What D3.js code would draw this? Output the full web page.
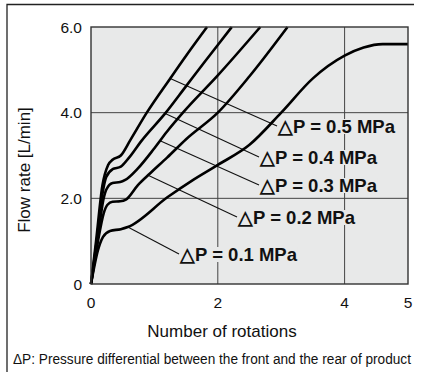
<!DOCTYPE html>
<meta charset="utf-8">
<style>
body { margin: 0; background: #fff; }
svg text { font-family: Arial, "Liberation Sans", Helvetica, sans-serif; fill: #111; }
.tick { font-size: 15.5px; }
.title { font-size: 17px; }
.lab { font-size: 18.5px; font-weight: bold; }
</style>
<body>
<script src="https://d3js.org/d3.v7.min.js"></script>
<script>

// [rotations, flow L/min]
var p05 = [[0,0],[0.08,1.0],[0.18,2.3],[0.27,2.78],[0.34,2.9],[0.47,3.0],[0.62,3.36],[0.88,4.0],[1.25,4.8],[1.5,5.33],[1.83,6.0]];
var p04 = [[0,0],[0.09,1.0],[0.18,2.1],[0.24,2.5],[0.34,2.68],[0.47,2.74],[0.6,2.95],[0.79,3.33],[1.18,4.0],[1.5,4.62],[1.8,5.2],[2.0,5.58],[2.22,6.0]];
var p03 = [[0,0],[0.1,1.0],[0.2,2.0],[0.24,2.2],[0.34,2.36],[0.46,2.38],[0.54,2.43],[0.74,2.7],[1.0,3.17],[1.2,3.56],[1.45,4.0],[2.0,4.87],[2.67,6.0]];
var p02 = [[0,0],[0.11,1.0],[0.2,1.65],[0.26,1.85],[0.34,1.92],[0.46,1.93],[0.55,1.97],[0.74,2.31],[0.93,2.58],[1.2,2.95],[1.5,3.38],[2.0,4.0],[2.5,4.85],[3.1,6.0]];
var p01 = [[0,0],[0.11,0.79],[0.19,1.1],[0.3,1.24],[0.47,1.28],[0.58,1.33],[1.21,2.03],[1.6,2.42],[2.0,2.78],[2.5,3.25],[3.0,4.0],[3.5,4.8],[4.0,5.33],[4.3,5.52],[4.6,5.6],[5,5.6]];

var series = [p05, p04, p03, p02, p01];
var labels = ["0.5", "0.4", "0.3", "0.2", "0.1"];
// where each leader touches its curve (x value on that curve)
var leaderAt = [1.25, 1.17, 1.09, 0.9, 0.58];

var xTicks = [0, 2, 4, 5];
var yTicks = [0, 2, 4, 6];
var yTickText = ["0", "2.0", "4.0", "6.0"];

var W = 425, H = 372;
var svg = d3.select("body").append("svg").attr("width", W).attr("height", H);

var x = d3.scaleLinear().domain([0, 5]).range([91, 408]);
var y = d3.scaleLinear().domain([0, 6]).range([284, 27]);

// outer frame (top + left only visible)
svg.append("path").attr("d", "M7,372V4.5H414").attr("fill", "none").attr("stroke", "#222").attr("stroke-width", 1.3);

svg.append("rect")
  .attr("x", x(0)).attr("y", y(6))
  .attr("width", x(5) - x(0)).attr("height", y(0) - y(6))
  .attr("fill", "#e8e9e9");

var grid = svg.append("g").attr("stroke", "#444").attr("stroke-width", 1);
[2, 4].forEach(function(v) {
  grid.append("line").attr("x1", x(v)).attr("x2", x(v)).attr("y1", y(0)).attr("y2", y(6));
  grid.append("line").attr("x1", x(0)).attr("x2", x(5)).attr("y1", y(v)).attr("y2", y(v));
});

// labels: position of text start (px) and baseline
var labPos = [[278, 133], [260, 164], [260, 192], [238, 224], [180, 261]];
var gLab = svg.append("g");
labels.forEach(function(l, i) {
  var g = gLab.append("g");
  var t = g.append("text").attr("class", "lab")
    .attr("x", labPos[i][0]).attr("y", labPos[i][1])
    .text("\u25B3P = " + l + " MPa");
  var b = t.node().getBBox();
  g.insert("rect", "text")
    .attr("x", b.x).attr("y", b.y + 3)
    .attr("width", b.width).attr("height", b.height - 6)
    .attr("fill", "#e8e9e9");
});

// leader lines
var bis = d3.bisector(function(d) { return d[0]; }).left;
function yOn(s, xv) {
  var i = bis(s, xv);
  var a = s[i - 1], b = s[i];
  return a[1] + (b[1] - a[1]) * (xv - a[0]) / (b[0] - a[0]);
}
series.forEach(function(s, i) {
  var xv = leaderAt[i];
  svg.append("line")
    .attr("x1", x(xv)).attr("y1", y(yOn(s, xv)))
    .attr("x2", labPos[i][0] - 1).attr("y2", labPos[i][1] - 7)
    .attr("stroke", "#111").attr("stroke-width", 1.1);
});

var line = d3.line()
  .x(function(d) { return x(d[0]); })
  .y(function(d) { return y(d[1]); })
  .curve(d3.curveMonotoneX);

svg.append("g").selectAll("path").data(series).enter().append("path")
  .attr("d", line)
  .attr("fill", "none").attr("stroke", "#000").attr("stroke-width", 2.6)
  .attr("stroke-linejoin", "round");

// plot border
svg.append("rect")
  .attr("x", x(0)).attr("y", y(6))
  .attr("width", x(5) - x(0)).attr("height", y(0) - y(6))
  .attr("fill", "none").attr("stroke", "#333").attr("stroke-width", 1.4);

// y tick labels
svg.append("g").selectAll("text").data(yTicks).enter().append("text")
  .attr("class", "tick")
  .attr("x", 82).attr("y", function(d) { return y(d) + 5.5; })
  .attr("text-anchor", "end")
  .text(function(d, i) { return yTickText[i]; });

// x tick labels
svg.append("g").selectAll("text").data(xTicks).enter().append("text")
  .attr("class", "tick")
  .attr("x", function(d) { return x(d); }).attr("y", 308)
  .attr("text-anchor", "middle")
  .text(function(d) { return d; });

svg.append("text").attr("class", "title")
  .attr("x", 222).attr("y", 337).attr("text-anchor", "middle")
  .text("Number of rotations");

svg.append("text").attr("class", "title")
  .attr("transform", "translate(30,170) rotate(-90)")
  .attr("text-anchor", "middle")
  .text("Flow rate [L/min]");

svg.append("text")
  .attr("x", 13).attr("y", 364)
  .style("font-family", "'Liberation Sans Narrow', 'Arial Narrow', Arial, sans-serif")
  .style("font-size", "14px")
  .attr("textLength", 398).attr("lengthAdjust", "spacingAndGlyphs")
  .text("\u0394P: Pressure differential between the front and the rear of product");

</script>
</body>
